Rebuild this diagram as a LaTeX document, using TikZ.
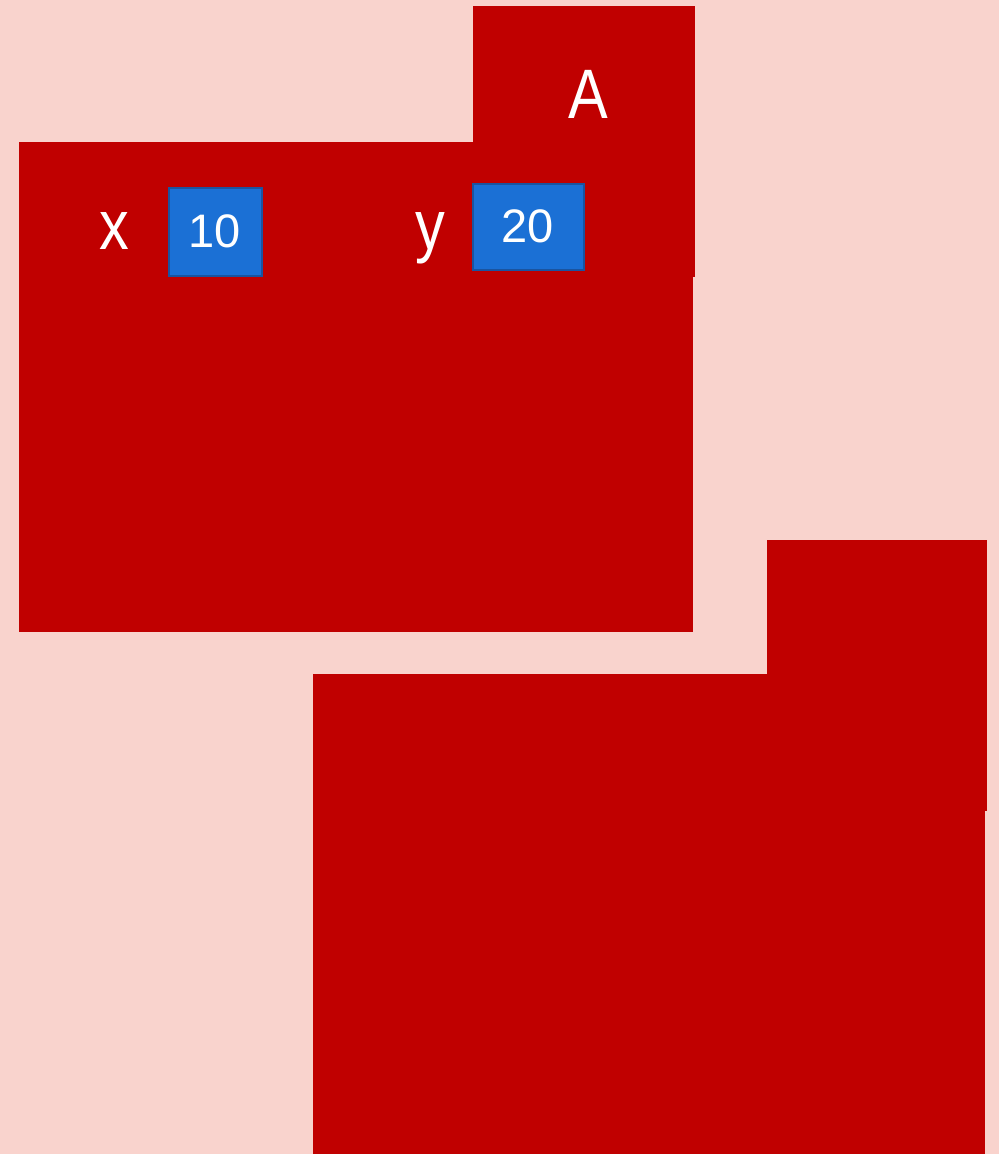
\documentclass[tikz,border=0pt]{standalone}
\usepackage{fontspec}
\setmainfont{Liberation Sans}
\newfontfamily\lblfont[FakeStretch=0.85]{Liberation Sans}
\usepackage{tikz}
\usetikzlibrary{positioning}
\definecolor{bgpink}{RGB}{249,211,205}
\definecolor{darkred}{RGB}{192,0,0}
\definecolor{valblue}{RGB}{27,112,213}
\definecolor{valedge}{RGB}{26,84,160}

\tikzset{
    part/.style={rectangle, fill=darkred, anchor=north west, inner sep=0pt},
    val/.style={rectangle, draw=valedge, line width=2pt, fill=valblue, text=white,
        inner sep=0pt, font=\fontsize{47}{56}\selectfont},
    lbl/.style={text=white, anchor=base, inner sep=0pt, font=\lblfont\fontsize{70}{84}\selectfont}
}

\begin{document}
\begin{tikzpicture}[x=1pt, y=-1pt]
    \fill[bgpink] (0,0) rectangle (999,1154);
    \useasboundingbox (0,0) rectangle (999,1154);

    % Object A (tab and body)
    \node[part, minimum width=222pt, minimum height=271pt] (tabA) at (473, 6) {};
    \node[part, minimum width=674pt, minimum height=490pt] (bodyA) at (19, 142) {};
    \node[lbl] (nameA) at (588, 118) {A};

    % Fields of A
    \node[lbl] (fx) at (114, 249) {x};
    \node[val, minimum width=93pt, minimum height=88pt] (vx) at (215, 231.5) {10};
    \node[lbl] (fy) at (430, 249) {y};
    \node[val, minimum width=111pt, minimum height=86pt] (vy) at (528, 226.5) {20};

    % Second object (no name)
    \node[part, minimum width=220pt, minimum height=271pt] (tabB) at (767, 540) {};
    \node[part, minimum width=672pt, minimum height=490pt] (bodyB) at (313, 674) {};
\end{tikzpicture}
\end{document}
